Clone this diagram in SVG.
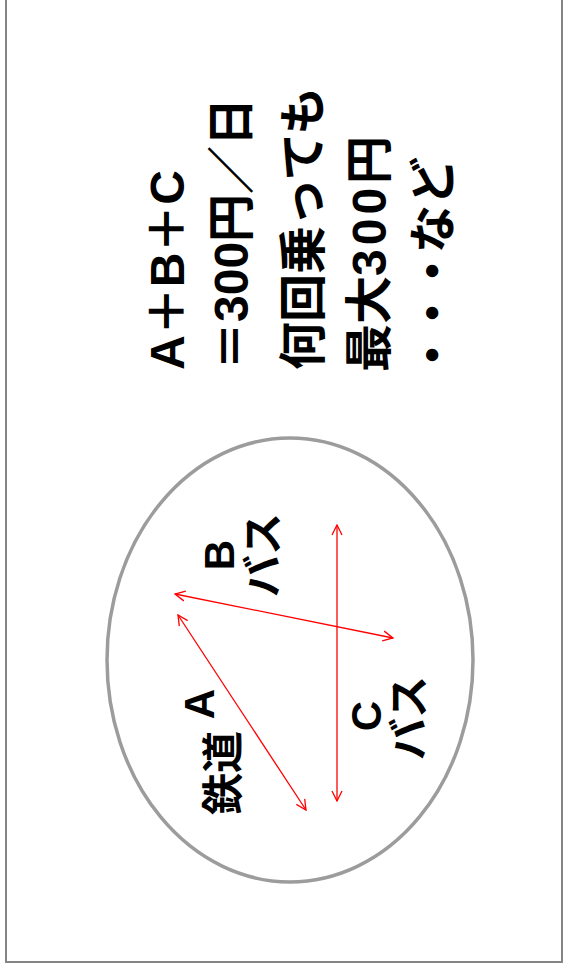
<svg xmlns="http://www.w3.org/2000/svg" width="565" height="966" viewBox="0 0 565 966">
<defs>
<style>
.t{font-family:"Liberation Sans","Noto Sans CJK JP",sans-serif;font-weight:bold;fill:#000}
.big{font-size:48px}
.mid{font-size:42px}
.arr{stroke:#ff0000;stroke-width:1.3;fill:none;marker-start:url(#ah);marker-end:url(#ah)}
</style>
<marker id="ah" viewBox="0 0 12 12" refX="11" refY="6" markerWidth="12" markerHeight="12" markerUnits="userSpaceOnUse" orient="auto-start-reverse">
<path d="M1,1 L11,6 L1,11" fill="none" stroke="#ff0000" stroke-width="1.3"/>
</marker>
</defs>
<rect width="565" height="966" fill="#fff"/>
<g id="frame" fill="none" stroke="#858585" stroke-width="2">
<path d="M6,0 V962 H562 V0"/>
</g>
<g id="summary" class="t big">
<text transform="translate(184,370) rotate(-90)">A＋B＋C</text>
<text transform="translate(248,370) rotate(-90)">＝300円／日</text>
<text transform="translate(320,370) rotate(-90)">何回乗っても</text>
<text transform="translate(386,372) rotate(-90)">最大<tspan letter-spacing="4">300</tspan>円</text>
<text transform="translate(450,379) rotate(-90)"><tspan letter-spacing="-6">・・・</tspan>など</text>
</g>
<g id="area">
<ellipse cx="290" cy="660" rx="183" ry="222" fill="none" stroke="#9c9c9c" stroke-width="3.5"/>
</g>
<g id="connectors">
<line class="arr" x1="306" y1="810" x2="178" y2="615"/>
<line class="arr" x1="175" y1="594" x2="393" y2="638"/>
<line class="arr" x1="337" y1="801" x2="337" y2="525"/>
</g>
<g id="railA" class="t mid">
<text transform="translate(238,815) rotate(-90)">鉄道 <tspan dy="-24">A</tspan></text>
</g>
<g id="busB" class="t mid" text-anchor="middle">
<text transform="translate(234,555) rotate(-90)">B</text>
<text transform="translate(278,555) rotate(-90)">バス</text>
</g>
<g id="busC" class="t mid" text-anchor="middle">
<text transform="translate(381,716) rotate(-90)">C</text>
<text transform="translate(424,718) rotate(-90)">バス</text>
</g>
</svg>
